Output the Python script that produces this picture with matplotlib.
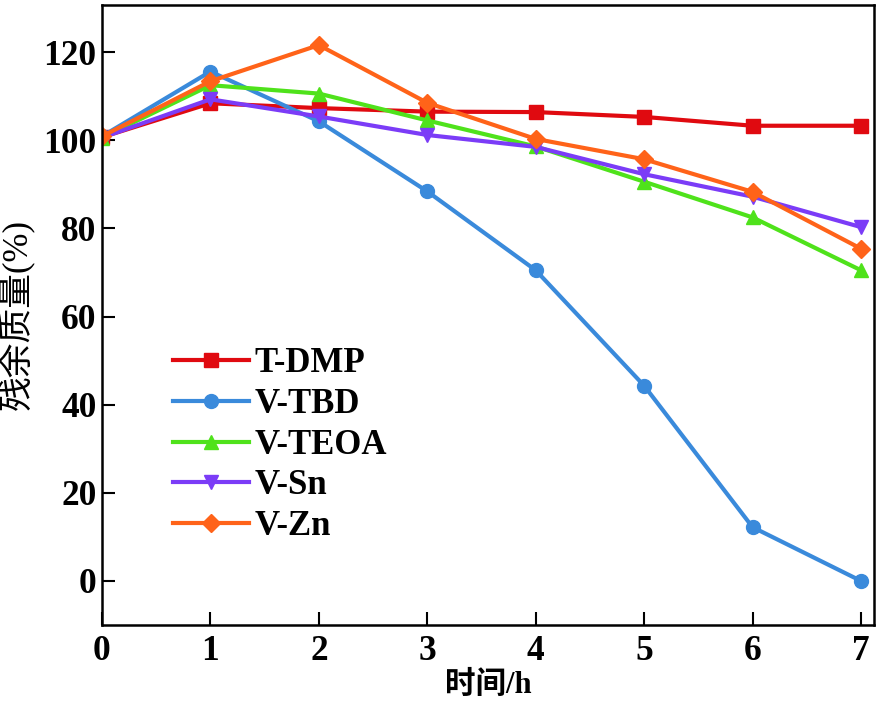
import matplotlib
matplotlib.use('Agg')
import matplotlib.pyplot as plt

# time (h)
hours = [0, 1, 2, 3, 4, 5, 6, 7]

# residual mass (%) for each sample
t_dmp = [100.7, 108.4, 107.3, 106.5, 106.4, 105.3, 103.3, 103.3]
v_tbd = [100.9, 115.6, 104.3, 88.4, 70.5, 44.3, 12.2, 0.0]
v_teoa = [100.6, 112.5, 110.6, 104.5, 98.6, 90.6, 82.5, 70.5]
v_sn = [100.6, 109.3, 105.4, 101.2, 98.5, 92.3, 87.2, 80.3]
v_zn = [100.9, 113.4, 121.6, 108.5, 100.3, 95.7, 88.3, 75.4]

labels = ['T-DMP', 'V-TBD', 'V-TEOA', 'V-Sn', 'V-Zn']
colors = ['#E00A10', '#3A8ADB', '#4FE21B', '#7B3CF7', '#FF6319']
markers = ['s', 'o', '^', 'v', 'D']

serif = ['Liberation Serif', 'DejaVu Serif']
cjk = ['Liberation Serif', 'Noto Sans CJK SC']

fig = plt.figure(figsize=(8.79, 7.01), dpi=100)
ax = fig.add_axes([102 / 879, 76 / 701, 772 / 879, 620 / 701])

series = [t_dmp, v_tbd, v_teoa, v_sn, v_zn]
for vals, lab, c, m in zip(series, labels, colors, markers):
    ms = 9 if m == 'D' else 10
    ax.plot(hours, vals, color=c, marker=m, markersize=ms, linewidth=3, label=lab)

ax.set_xlim(0, 7.12)
ax.set_ylim(-10, 130.7)
ax.set_xticks(range(0, 8))
ax.set_yticks([0, 20, 40, 60, 80, 100, 120])

ax.tick_params(direction='in', length=9.5, width=1.5, top=False, right=False)
ax.tick_params(axis='y', pad=4)
ax.tick_params(axis='x', pad=7)
for lbl in ax.get_xticklabels() + ax.get_yticklabels():
    lbl.set_fontfamily(serif)
    lbl.set_fontweight('bold')
    lbl.set_fontsize(25.5)
for sp in ax.spines.values():
    sp.set_linewidth(1.8)

ax.set_xlabel('时间/h', family=cjk, fontsize=22, fontweight='bold', labelpad=2)
ax.set_ylabel('残余质量(%)', family=cjk, fontsize=25)
ax.yaxis.set_label_coords(-0.086, 0.5)

leg = ax.legend(loc='upper left', bbox_to_anchor=(0.074, 0.47), frameon=False,
                handlelength=2.2, handletextpad=0.15, labelspacing=0.22,
                borderaxespad=0,
                prop={'family': serif, 'weight': 'bold', 'size': 25})

fig.savefig('out.png', dpi=100)
